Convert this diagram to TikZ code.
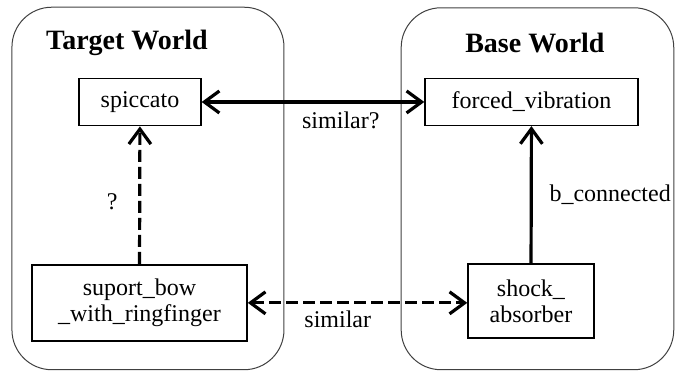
\documentclass[tikz,border=0pt]{standalone}
\usepackage{fontspec}
\setmainfont{Liberation Serif}
\usetikzlibrary{arrows.meta}

\tikzset{
	world/.style={rounded corners=7mm, draw=black!75, line width=0.5pt},
	concept/.style={draw, line width=0.8pt, align=center, inner sep=2pt, font=\fontsize{12}{13}\selectfont},
	title/.style={font=\fontsize{14}{16}\selectfont\bfseries},
	lbl/.style={font=\fontsize{12}{14}\selectfont},
	barb/.tip={Straight Barb[length=7.5pt,width=11pt]},
	link/.style={line width=1.6pt},
	guess/.style={line width=1.6pt, dash pattern=on 6pt off 2.5pt}
}

\begin{document}
\begin{tikzpicture}
	\useasboundingbox (0,0) rectangle (12.02,6.537);

	% the two worlds
	\draw[world] (0.21,0.04) rectangle (4.99,6.41);
	\draw[world] (7.05,0.04) rectangle (11.84,6.40);
	\node[title] (tw) at (2.23,5.78) {Target World};
	\node[title] (bw) at (9.40,5.78) {Base World};

	% concepts
	\node[concept, minimum width=2.14cm, minimum height=0.83cm] (spic) at (2.46,4.745) {spiccato};
	\node[concept, minimum width=3.74cm, minimum height=0.82cm] (forced) at (9.34,4.745) {forced\_vibration};
	\node[concept, minimum width=3.78cm, minimum height=1.34cm] (bow) at (2.45,1.215) {suport\_bow\\\_with\_ringfinger};
	\node[concept, minimum width=2.21cm, minimum height=1.30cm] (shock) at (9.33,1.25) {shock\_\\absorber};

	% relations
	\draw[link, barb-barb] (spic) -- node[lbl, below=1pt, pos=0.625] {similar?} (forced);
	\draw[guess, barb-barb] (bow.east |- 0,1.215) -- node[lbl, below=0pt, pos=0.41] {similar} (shock.west |- 0,1.215);
	\draw[guess, -barb] (bow) -- node[lbl, left=7pt, pos=0.45] {?} (spic);
	\draw[link, -barb] (shock) -- node[lbl, right=5pt] {b\_connected} (forced);
\end{tikzpicture}
\end{document}
